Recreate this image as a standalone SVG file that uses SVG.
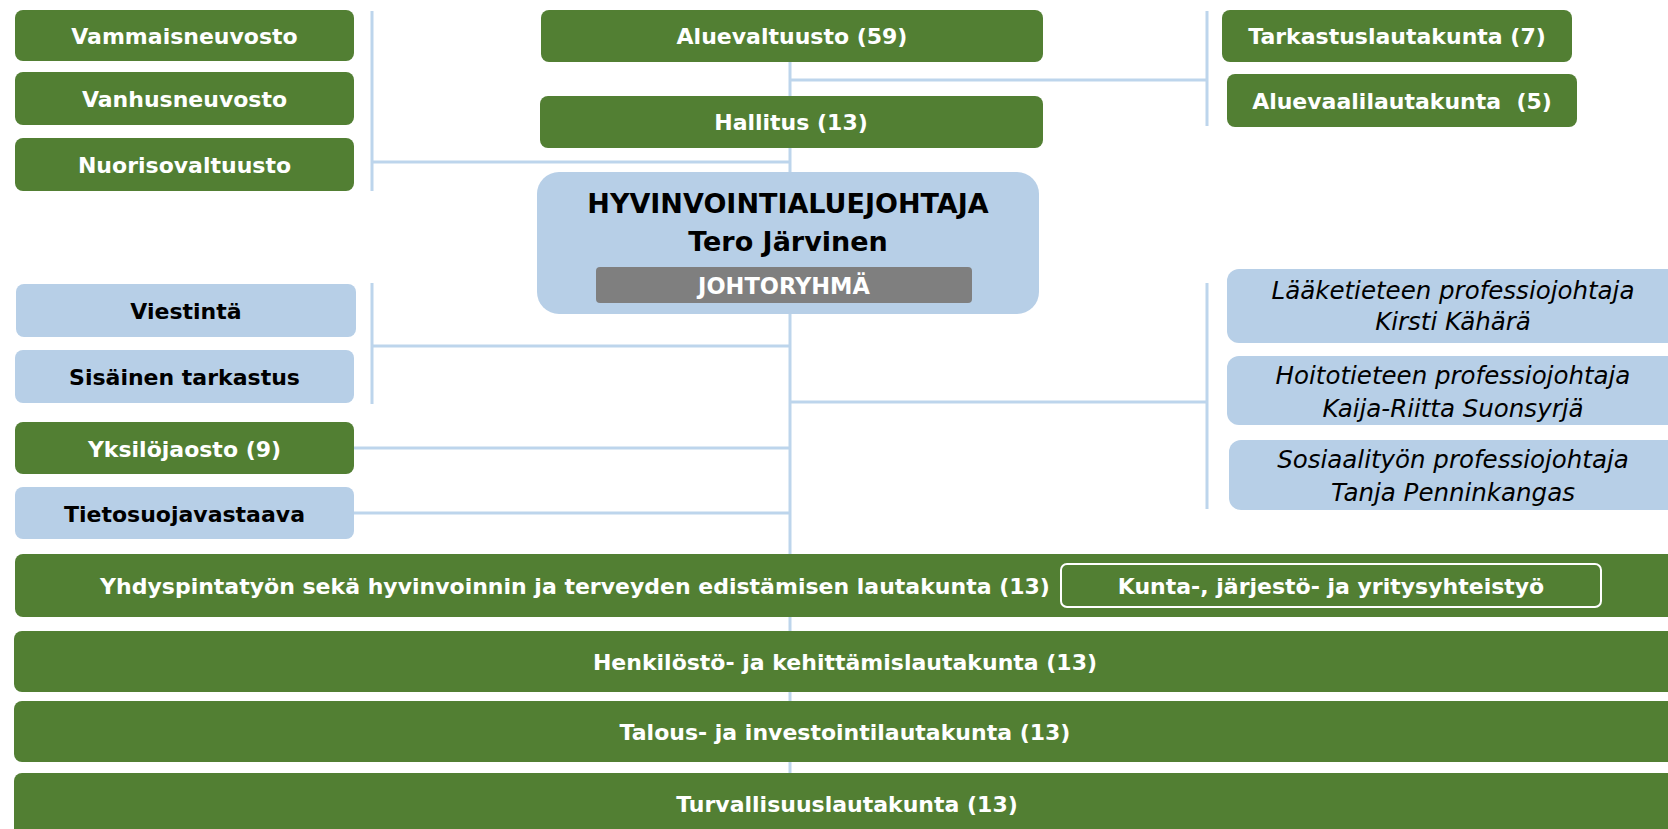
<svg xmlns="http://www.w3.org/2000/svg" width="1668" height="829" viewBox="0 0 1668 829">
<style>
.g{fill:#527f33}
.b{fill:#b7cfe7}
.t{font-family:"DejaVu Sans",Verdana,sans-serif;font-weight:bold;font-size:22px;text-anchor:middle}
.w{fill:#ffffff}
.k{fill:#000000}
.i{font-family:"DejaVu Sans",Verdana,sans-serif;font-style:italic;font-size:24.5px;text-anchor:middle;fill:#000}
.c{stroke:#bdd5ec;stroke-width:3;fill:none}
</style>
<rect width="1668" height="829" fill="#ffffff"/>
<g id="connectors">
<path class="c" d="M790 62V829"/>
<path class="c" d="M372 11V191M372 162H790"/>
<path class="c" d="M1207 11V126M790 80H1207"/>
<path class="c" d="M372 283V404M372 346H790"/>
<path class="c" d="M354 448H790M354 513H790"/>
<path class="c" d="M1207 283V509M790 402H1207"/>
</g>
<g id="vammaisneuvosto"><rect class="g" x="15" y="10" width="339" height="51" rx="8"/><text class="t w" x="184.5" y="43.5">Vammaisneuvosto</text></g>
<g id="vanhusneuvosto"><rect class="g" x="15" y="72" width="339" height="53" rx="8"/><text class="t w" x="184.5" y="106.5">Vanhusneuvosto</text></g>
<g id="nuorisovaltuusto"><rect class="g" x="15" y="138" width="339" height="53" rx="8"/><text class="t w" x="184.5" y="172.5">Nuorisovaltuusto</text></g>
<g id="aluevaltuusto"><rect class="g" x="541" y="10" width="502" height="52" rx="8"/><text class="t w" x="792" y="43.5">Aluevaltuusto (59)</text></g>
<g id="hallitus"><rect class="g" x="540" y="96" width="503" height="52" rx="8"/><text class="t w" x="791" y="129.5">Hallitus (13)</text></g>
<g id="tarkastuslautakunta"><rect class="g" x="1222" y="10" width="350" height="52" rx="8"/><text class="t w" x="1397" y="43.5">Tarkastuslautakunta (7)</text></g>
<g id="aluevaalilautakunta"><rect class="g" x="1227" y="74" width="350" height="53" rx="8"/><text class="t w" x="1402" y="108.5" xml:space="preserve">Aluevaalilautakunta  (5)</text></g>
<g id="hyvinvointialuejohtaja"><rect class="b" x="537" y="172" width="502" height="142" rx="22"/>
<text class="t k" x="788" y="213" style="font-size:27px">HYVINVOINTIALUEJOHTAJA</text>
<text class="t k" x="788" y="251" style="font-size:27px">Tero Järvinen</text>
<rect x="596" y="267" width="376" height="36" rx="4" fill="#7f7f7f"/>
<text class="t w" x="784" y="293.5" style="font-size:22.5px">JOHTORYHMÄ</text></g>
<g id="viestinta"><rect class="b" x="16" y="284" width="340" height="53" rx="8"/><text class="t k" x="186" y="318.5">Viestintä</text></g>
<g id="sisainen-tarkastus"><rect class="b" x="15" y="350" width="339" height="53" rx="8"/><text class="t k" x="184.5" y="384.5">Sisäinen tarkastus</text></g>
<g id="yksilojaosto"><rect class="g" x="15" y="422" width="339" height="52" rx="8"/><text class="t w" x="184.5" y="456.5">Yksilöjaosto (9)</text></g>
<g id="tietosuojavastaava"><rect class="b" x="15" y="487" width="339" height="52" rx="8"/><text class="t k" x="184.5" y="521.5">Tietosuojavastaava</text></g>
<g id="laaketieteen"><rect class="b" x="1227" y="269" width="460" height="74" rx="12"/><text class="i" x="1453" y="299">Lääketieteen professiojohtaja</text><text class="i" x="1453" y="330">Kirsti Kähärä</text></g>
<g id="hoitotieteen"><rect class="b" x="1227" y="356" width="460" height="69" rx="12"/><text class="i" x="1453" y="384">Hoitotieteen professiojohtaja</text><text class="i" x="1453" y="417">Kaija-Riitta Suonsyrjä</text></g>
<g id="sosiaalityon"><rect class="b" x="1229" y="440" width="460" height="70" rx="12"/><text class="i" x="1453" y="468">Sosiaalityön professiojohtaja</text><text class="i" x="1453" y="501">Tanja Penninkangas</text></g>
<g id="yhdyspintatyon"><rect class="g" x="15" y="554" width="1670" height="63" rx="8"/><text class="t w" x="575" y="593.5">Yhdyspintatyön sekä hyvinvoinnin ja terveyden edistämisen lautakunta (13)</text>
<rect x="1061" y="564" width="540" height="43" rx="6" fill="#527f33" stroke="#ffffff" stroke-width="2"/><text class="t w" x="1331" y="593.5">Kunta-, järjestö- ja yritysyhteistyö</text></g>
<g id="henkilosto"><rect class="g" x="14" y="631" width="1670" height="61" rx="8"/><text class="t w" x="845" y="669.5">Henkilöstö- ja kehittämislautakunta (13)</text></g>
<g id="talous"><rect class="g" x="14" y="701" width="1670" height="61" rx="8"/><text class="t w" x="845" y="739.5">Talous- ja investointilautakunta (13)</text></g>
<g id="turvallisuus"><rect class="g" x="14" y="773" width="1670" height="70" rx="8"/><text class="t w" x="847" y="811.5">Turvallisuuslautakunta (13)</text></g>
</svg>
